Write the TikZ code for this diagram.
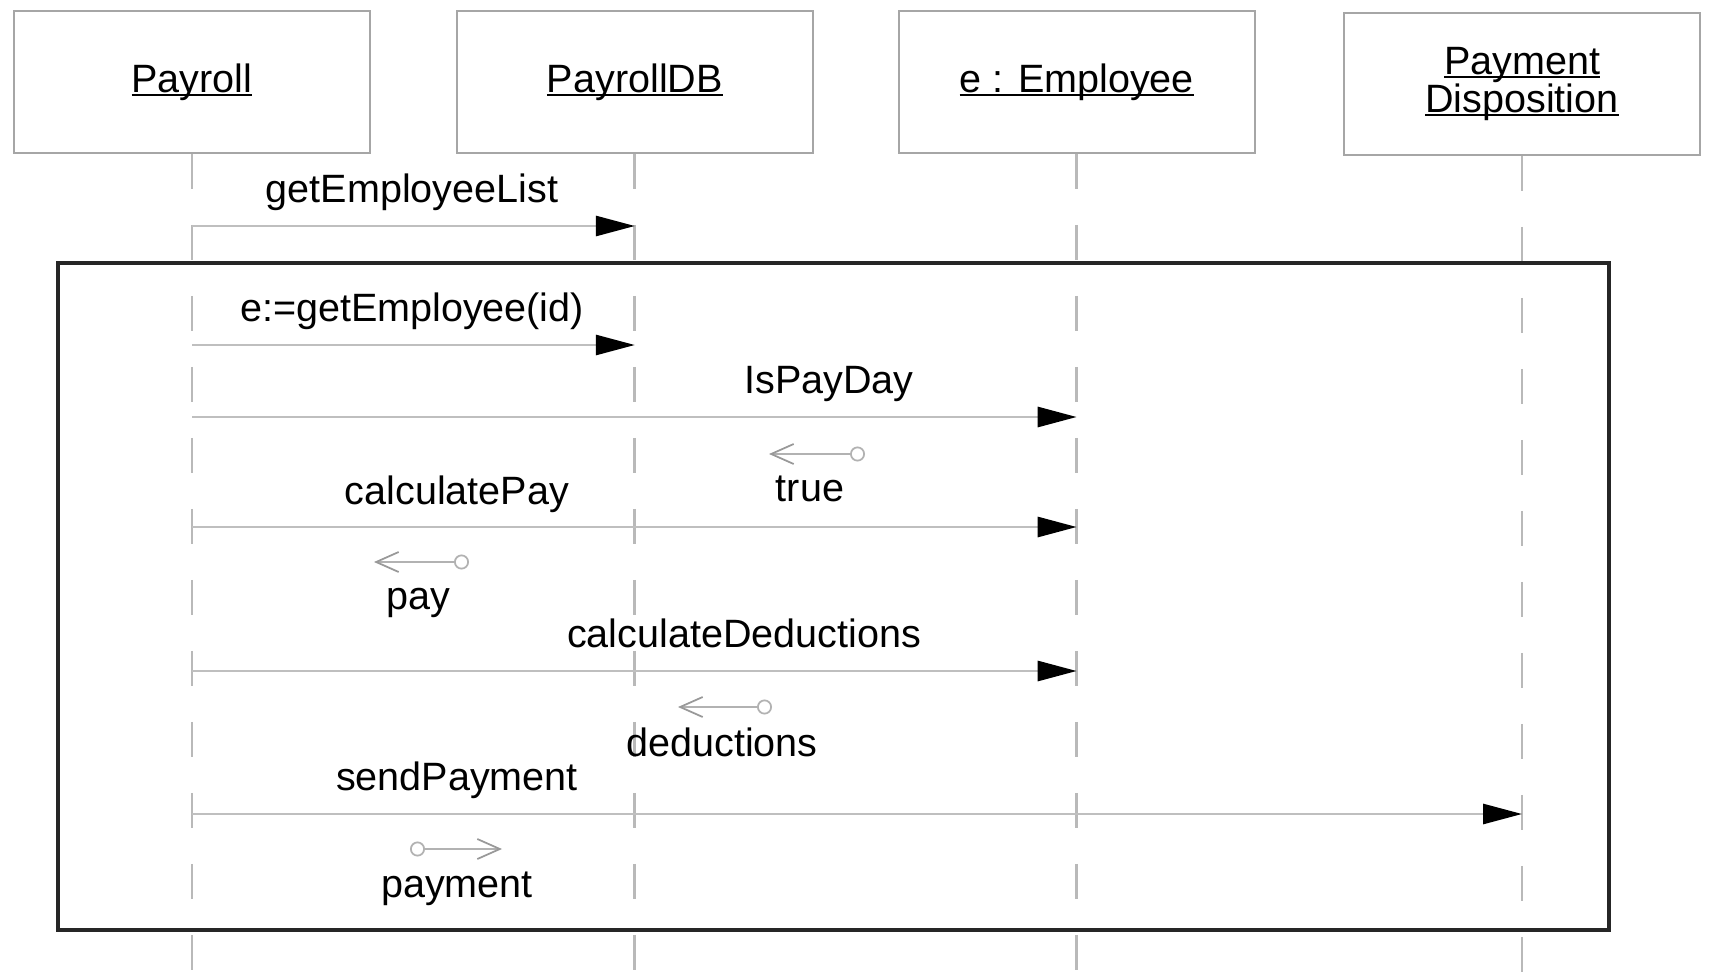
\documentclass[tikz,border=0pt]{standalone}
\usepackage{fontspec}
\setmainfont{Liberation Sans}
\usetikzlibrary{positioning}
\usetikzlibrary{arrows.meta}

% object names are underlined close to the baseline
\newcommand{\objname}[1]{\setbox0\hbox{#1}\rlap{\rule[-0.1em]{\wd0}{0.06em}}\box0}

\begin{document}
\begin{tikzpicture}[
            x=0.02cm, y=-0.02cm,
            font=\fontsize{22.5}{21.6}\selectfont,
            graysquarednode/.style={rectangle, draw=gray!70, line width=1.1pt, minimum width=7.12cm, minimum height=2.84cm, align=center},
            lifeline/.style={draw=gray!55, line width=1.6pt, dash pattern=on 0.7cm off 0.72cm},
            callarrow/.style={draw=gray!50, line width=1.6pt, -{Triangle[length=0.78cm, width=0.4cm, color=black]}},
            dataarrow/.style={draw=gray!60, line width=1pt, {Circle[open, length=0.3cm, width=0.3cm]}-{Straight Barb[length=0.45cm, width=0.4cm, color=gray!80]}},
            framebox/.style={draw=black!85, line width=1.8pt},
            ]
            \useasboundingbox (0,0) rectangle (1710,980);

            % objects along the top
            \node[graysquarednode] (payroll) at (192,82) {\objname{Payroll}};
            \node[graysquarednode, right=1.7cm of payroll] (payrolldb) {\objname{PayrollDB}};
            \node[graysquarednode, right=1.68cm of payrolldb] (employee) {\objname{e : Employee}};
            \node[graysquarednode, right=1.75cm of employee, yshift=-0.04cm] (disposition) {\objname{Payment}\\\objname{Disposition}};

            % lifelines
            \coordinate (bottom) at (0,980);
            \foreach \obj in {payroll, payrolldb, employee, disposition}
                \draw[lifeline] (\obj.south) -- (\obj |- bottom);

            % loop frame
            \draw[framebox] (58,263) rectangle (1609,930);

            % rows of the messages
            \coordinate (m1) at (0,226);
            \coordinate (m2) at (0,345);
            \coordinate (m3) at (0,417);
            \coordinate (m4) at (0,527);
            \coordinate (m5) at (0,671);
            \coordinate (m6) at (0,814);

            \draw[callarrow] (payroll |- m1) -- (payrolldb |- m1);
            \draw[callarrow] (payroll |- m2) -- (payrolldb |- m2);
            \draw[callarrow] (payroll |- m3) -- (employee |- m3);
            \draw[callarrow] (payroll |- m4) -- (employee |- m4);
            \draw[callarrow] (payroll |- m5) -- (employee |- m5);
            \draw[callarrow] (payroll |- m6) -- (disposition |- m6);

            \node (getlist) at (412,192) {getEmployeeList};
            \node (getemp) at (412,311) {e:=getEmployee(id)};
            \node (payday) at (829,384) {IsPayDay};
            \node (calcpay) at (457,494) {calculatePay};
            \node (calcded) at (744,633) {calculateDeductions};
            \node (sendpay) at (457,780) {sendPayment};

            % returned values
            \coordinate (r1a) at (865,454);
            \coordinate (r1b) at (769,454);
            \coordinate (r2a) at (469,562);
            \coordinate (r2b) at (374,562);
            \coordinate (r3a) at (772,707);
            \coordinate (r3b) at (678,707);
            \coordinate (r4a) at (410,849);
            \coordinate (r4b) at (502,849);
            \draw[dataarrow] (r1a) -- (r1b);
            \draw[dataarrow] (r2a) -- (r2b);
            \draw[dataarrow] (r3a) -- (r3b);
            \draw[dataarrow] (r4a) -- (r4b);

            \node (true) at (810,489) {true};
            \node (pay) at (418,603) {pay};
            \node (deductions) at (722,742) {deductions};
            \node (payment) at (457,889) {payment};
        \end{tikzpicture}
\end{document}
